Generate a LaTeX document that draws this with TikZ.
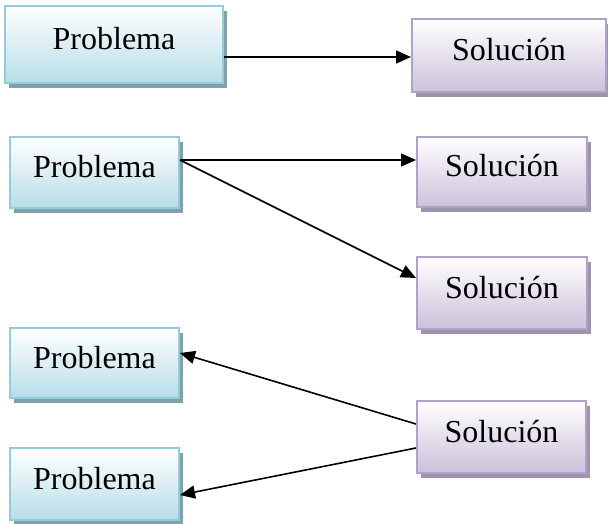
\documentclass[tikz,border=0pt]{standalone}
\usepackage{fontspec}
\setmainfont{Liberation Serif}
\usetikzlibrary{arrows.meta,shadows}
\definecolor{bborder}{RGB}{146,205,220}
\definecolor{bbottom}{RGB}{183,221,232}
\definecolor{bshadow}{RGB}{128,160,170}
\definecolor{pborder}{RGB}{178,161,199}
\definecolor{pbottom}{RGB}{204,193,218}
\definecolor{pshadow}{RGB}{158,148,172}
\tikzset{
  box/.style={draw, line width=2pt, inner sep=0pt, font=\fontsize{32}{38}\selectfont,
    text height=21pt, text depth=11pt},
  probbox/.style={box, draw=bborder, top color=white, bottom color=bbottom,
    general shadow={fill=bshadow, shadow xshift=4pt, shadow yshift=-5pt}},
  solbox/.style={box, draw=pborder, top color=white, bottom color=pbottom,
    general shadow={fill=pshadow, shadow xshift=4pt, shadow yshift=-5pt}},
  conn/.style={line width=1.6pt, -{Triangle[length=15pt,width=13pt]}}
}
\begin{document}
\begin{tikzpicture}[x=1pt,y=-1pt]
\useasboundingbox (0,0) rectangle (608,524);
\node[probbox, minimum width=218pt, minimum height=77pt] (P1) at (114,44.5) {Problema};
\node[solbox, minimum width=194pt, minimum height=73pt] (S1) at (509,55.5) {Solución};
\node[probbox, minimum width=169pt, minimum height=71pt] (P2) at (94.5,172.5) {Problema};
\node[solbox, minimum width=170pt, minimum height=70pt] (S2) at (502,172) {Solución};
\node[solbox, minimum width=170pt, minimum height=72pt] (S3) at (502,293) {Solución};
\node[probbox, minimum width=169pt, minimum height=70pt] (P3) at (94.5,363) {Problema};
\node[solbox, minimum width=169pt, minimum height=72pt] (S4) at (501.5,437) {Solución};
\node[probbox, minimum width=169pt, minimum height=72pt] (P4) at (94.5,484) {Problema};
\coordinate (p2out) at ([yshift=12.5pt]P2.east);
\coordinate (s4a) at ([yshift=13pt]S4.west);
\coordinate (s4b) at ([yshift=-11pt]S4.west);
\draw[conn] ([yshift=-12.5pt]P1.east) -- ([yshift=-1.5pt]S1.west);
\draw[conn] (p2out) -- ([yshift=12pt]S2.west);
\draw[conn] (p2out) -- ([yshift=15pt]S3.west);
\draw[conn] (s4a) -- ([yshift=10pt]P3.east);
\draw[conn] (s4b) -- ([yshift=-11pt]P4.east);
\end{tikzpicture}
\end{document}
